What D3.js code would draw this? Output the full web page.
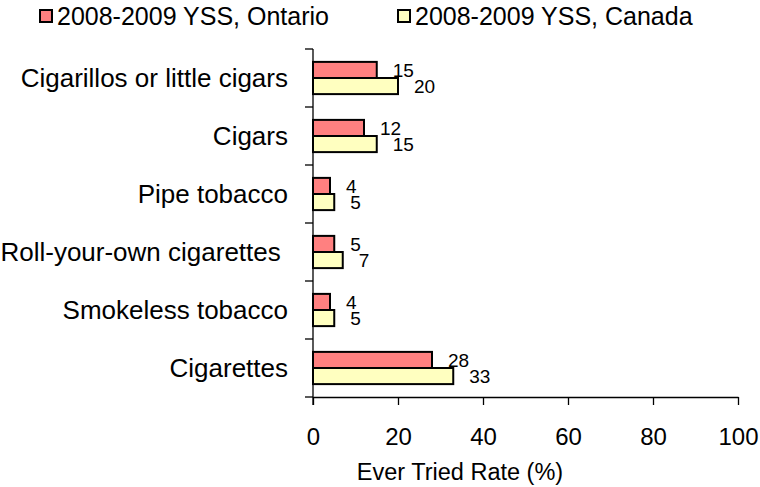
<!DOCTYPE html>
<html>
<head>
<meta charset="utf-8">
<script src="https://cdn.jsdelivr.net/npm/d3@7"></script>
<style>
  body { margin: 0; background: #fff; }
  svg { display: block; font-family: "Liberation Sans", Arial, sans-serif; }
  .domain, .tick line { stroke: #000; stroke-width: 1.3; }
</style>
</head>
<body>
<svg id="chart" width="760" height="487"></svg>
<script>
    'use strict';

    var categories = [ 'Cigarillos or little cigars', 'Cigars', 'Pipe tobacco',
        'Roll-your-own cigarettes ', 'Smokeless tobacco', 'Cigarettes' ];
    var seriesNames = [ '2008-2009 YSS, Ontario', '2008-2009 YSS, Canada' ];
    var ontario = [ 15, 12, 4, 5, 4, 28 ];
    var canada = [ 20, 15, 5, 7, 5, 33 ];
    var xTicks = [ 0, 20, 40, 60, 80, 100 ];
    var colors = [ '#ff8080', '#ffffc0' ];

    var box = { left: 313, right: 738, top: 49, bottom: 397 };

    var svg = d3.select( '#chart' );

    var x = d3.scaleLinear().domain( [ 0, 100 ] ).range( [ box.left, box.right ] );
    var y = d3.scaleBand().domain( categories ).range( [ box.top, box.bottom ] ).padding( 0 );
    var ySub = d3.scaleBand().domain( seriesNames ).range( [ 0, y.bandwidth() ] )
        .paddingInner( 0 ).paddingOuter( 0.8 );

    var rows = categories.map(function( c, i ){
        return { cat: c, values: [ ontario[i], canada[i] ] };
    });

    // bars
    var groups = svg.selectAll( 'g.row' ).data( rows ).enter()
        .append( 'g' ).attr( 'class', 'row' )
        .attr( 'transform', function( d ){ return 'translate(0,' + y( d.cat ) + ')'; } );

    groups.selectAll( 'rect' )
        .data(function( d ){ return d.values.map(function( v, k ){ return { v: v, k: k }; }); })
        .enter().append( 'rect' )
        .attr( 'x', x( 0 ) )
        .attr( 'y', function( d ){ return ySub( seriesNames[d.k] ); } )
        .attr( 'width', function( d ){ return x( d.v ) - x( 0 ); } )
        .attr( 'height', ySub.bandwidth() )
        .attr( 'fill', function( d ){ return colors[d.k]; } )
        .attr( 'stroke', '#000' )
        .attr( 'stroke-width', 2 );

    // value labels sit just past the bar end, one per bar
    groups.selectAll( 'text' )
        .data(function( d ){ return d.values.map(function( v, k ){ return { v: v, k: k }; }); })
        .enter().append( 'text' )
        .attr( 'x', function( d ){ return x( d.v ) + 16; } )
        .attr( 'y', function( d ){ return ySub( seriesNames[d.k] ) + ySub.bandwidth() - 1; } )
        .attr( 'font-size', 19 )
        .text(function( d ){ return d.v; });

    // x axis
    var xAxis = d3.axisBottom( x ).tickValues( xTicks ).tickSize( 8 ).tickSizeOuter( 0 ).tickPadding( 23 );
    var gx = svg.append( 'g' ).attr( 'transform', 'translate(0,' + box.bottom + ')' ).call( xAxis );
    gx.selectAll( 'text' ).attr( 'font-size', 24 ).attr( 'fill', '#000' );

    // y axis line and category boundary ticks
    svg.append( 'line' )
        .attr( 'x1', x( 0 ) ).attr( 'x2', x( 0 ) )
        .attr( 'y1', box.top ).attr( 'y2', box.bottom + 8 )
        .attr( 'stroke', '#000' ).attr( 'stroke-width', 1.3 );

    svg.selectAll( 'line.ytick' ).data( categories.concat( [ null ] ) ).enter()
        .append( 'line' ).attr( 'class', 'ytick' )
        .attr( 'x1', x( 0 ) - 8 ).attr( 'x2', x( 0 ) )
        .attr( 'y1', function( d ){ return d === null ? box.bottom : y( d ); } )
        .attr( 'y2', function( d ){ return d === null ? box.bottom : y( d ); } )
        .attr( 'stroke', '#000' ).attr( 'stroke-width', 1.3 );

    svg.selectAll( 'text.cat' ).data( categories ).enter()
        .append( 'text' ).attr( 'class', 'cat' )
        .attr( 'x', 288 )
        .attr( 'y', function( d ){ return y( d ) + y.bandwidth() / 2 + 9; } )
        .attr( 'text-anchor', 'end' )
        .attr( 'font-size', 26 )
        .style( 'white-space', 'pre' )
        .text(function( d ){ return d; });

    // axis title
    svg.append( 'text' )
        .attr( 'x', 460 ).attr( 'y', 480 )
        .attr( 'text-anchor', 'middle' )
        .attr( 'font-size', 23.5 )
        .text( 'Ever Tried Rate (%)' );

    // legend
    var legend = svg.selectAll( 'g.legend' ).data( seriesNames ).enter()
        .append( 'g' ).attr( 'class', 'legend' )
        .attr( 'transform', function( d, i ){ return 'translate(' + ( 40 + i * 358 ) + ',10)'; } );

    legend.append( 'rect' )
        .attr( 'width', 12 ).attr( 'height', 12 )
        .attr( 'fill', function( d, i ){ return colors[i]; } )
        .attr( 'stroke', '#000' ).attr( 'stroke-width', 2 );

    legend.append( 'text' )
        .attr( 'x', 17 ).attr( 'y', 15 )
        .attr( 'font-size', 25 )
        .text(function( d ){ return d; });
</script>
</body>
</html>
